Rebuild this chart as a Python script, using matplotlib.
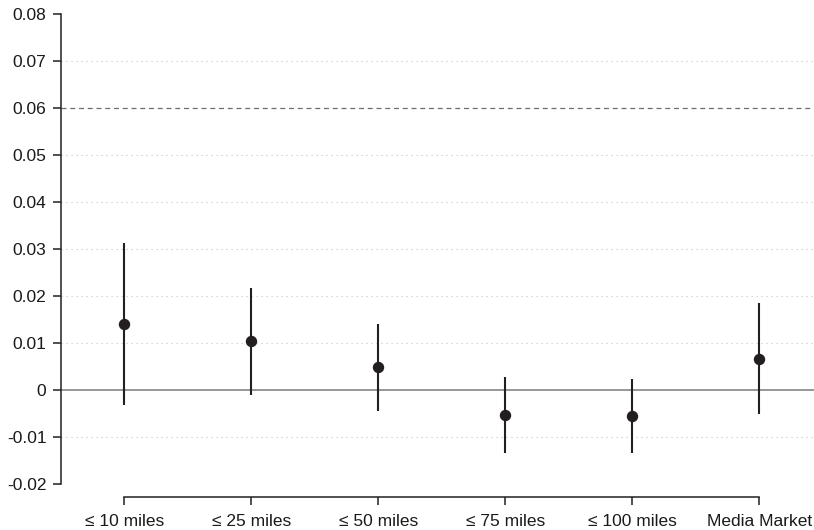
import matplotlib
matplotlib.use("Agg")
import matplotlib.pyplot as plt
import numpy as np

plt.rcParams['font.family'] = ['Liberation Sans', 'DejaVu Sans']

# estimates and 95% interval ends
labels = ["≤ 10 miles", "≤ 25 miles", "≤ 50 miles", "≤ 75 miles", "≤ 100 miles", "Media Market"]
est = [0.0140, 0.0104, 0.0048, -0.0053, -0.0055, 0.0067]
lower = [-0.0032, -0.0010, -0.0045, -0.0135, -0.0133, -0.0052]
upper = [0.0313, 0.0218, 0.0141, 0.0028, 0.0023, 0.0185]

yticks = [-0.02, -0.01, 0, 0.01, 0.02, 0.03, 0.04, 0.05, 0.06, 0.07, 0.08]
ytick_labels = ["-0.02", "-0.01", "0", "0.01", "0.02", "0.03", "0.04", "0.05", "0.06", "0.07", "0.08"]
grid_vals = [-0.01, 0.01, 0.02, 0.03, 0.04, 0.05, 0.07]
ref_line = 0.06

ink = "#231f20"

fig = plt.figure(figsize=(8.14, 5.30), dpi=100)
ax = fig.add_axes([61 / 814, 46 / 530, 753 / 814, 470 / 530])

x = np.arange(1, len(labels) + 1)

for g in grid_vals:
    ax.axhline(g, color="#c4c4c4", lw=0.8, ls=(0, (1, 3.5)), zorder=0)
ax.axhline(ref_line, color="#6e6e6e", lw=0.9, ls=(0, (4, 3)), zorder=0)
ax.axhline(0, color="#7a7a7a", lw=1.1, zorder=1)

ax.vlines(x, lower, upper, color=ink, lw=1.5, zorder=2)
ax.plot(x, est, "o", color=ink, ms=7.2, zorder=3)

ax.set_xlim(0.5, 6.43)
ax.set_ylim(-0.02, 0.08)
ax.set_xticks(x)
ax.set_xticklabels(labels)
ax.set_yticks(yticks)
ax.set_yticklabels(ytick_labels)

for s in ["top", "right"]:
    ax.spines[s].set_visible(False)
ax.spines["left"].set_bounds(-0.02, 0.08)
ax.spines["bottom"].set_bounds(1, 6)
ax.spines["bottom"].set_position(("outward", 9.5))
for s in ["left", "bottom"]:
    ax.spines[s].set_color(ink)
    ax.spines[s].set_linewidth(1.1)

ax.tick_params(axis="both", colors=ink, labelcolor="#1a1a1a", labelsize=12.5,
               length=5.5, width=1.1, pad=5)
ax.tick_params(axis="x", pad=6.5)

fig.savefig("out.png", dpi=100)
